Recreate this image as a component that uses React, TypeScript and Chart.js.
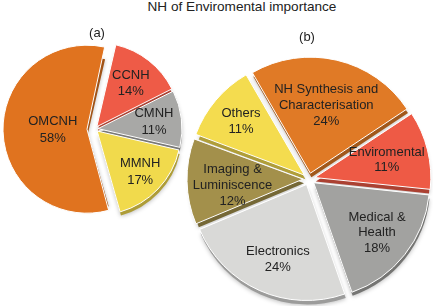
import React, { useEffect, useRef } from 'react';
import { Chart, registerables } from 'chart.js';

Chart.register(...registerables);

const TITLE = 'NH of Enviromental importance';
const PANEL_A = '(a)';
const PANEL_B = '(b)';

const labelsA = ['CCNH', 'CMNH', 'MMNH', 'OMCNH'];
const valuesA = [14, 11, 17, 58];
const colorsA = ['#EE5B47', '#A8A8A6', '#F1DA4C', '#E0731F'];
const explodeA = [3, 3, 3, 8];
const labelRadiusA = [0.66, 0.68, 0.71, 0.45];
const labelTurnA = [0, 0, 0, 0];

const labelsB = [
  'NH Synthesis and\nCharacterisation',
  'Enviromental',
  'Medical &\nHealth',
  'Electronics',
  'Imaging &\nLuminiscence',
  'Others',
];
const valuesB = [24, 11, 18, 24, 12, 11];
const colorsB = ['#E07A26', '#EE5A45', '#A2A2A0', '#D9D9D7', '#A3904B', '#F4DC4F'];
const explodeB = [6, 6, 6, 6, 6, 6];
const labelRadiusB = [0.6, 0.65, 0.7, 0.69, 0.62, 0.73];
const labelTurnB = [0, 0, 0, -3, -4, 0];

const FONT = '"Liberation Sans", Arial, Helvetica, sans-serif';

function darken(hex: string, f: number): string {
  const n = parseInt(hex.slice(1), 16);
  const r = Math.round(((n >> 16) & 255) * f);
  const g = Math.round(((n >> 8) & 255) * f);
  const b = Math.round((n & 255) * f);
  return `rgb(${r},${g},${b})`;
}

// keep the exploded slices the same radius as the others
const fixRadius = {
  id: 'fixRadius',
  afterDatasetUpdate(chart: any, args: any) {
    const meta = chart.getDatasetMeta(args.index);
    meta.data.forEach((arc: any) => {
      const off = ((arc.options && arc.options.offset) || 0) / 4;
      const circ = arc.endAngle - arc.startAngle;
      const fix = 1 - Math.sin(Math.min(Math.PI, circ));
      arc.outerRadius = arc.outerRadius - off * fix;
    });
  },
};

// darker "thickness" under each slice
const rimPlugin = {
  id: 'rim',
  beforeDatasetsDraw(chart: any, _args: any, opts: any) {
    const ctx = chart.ctx;
    const meta = chart.getDatasetMeta(0);
    ctx.save();
    meta.data.forEach((arc: any, i: number) => {
      const off = ((arc.options && arc.options.offset) || 0) / 4;
      const mid = (arc.startAngle + arc.endAngle) / 2;
      const cx = arc.x + Math.cos(mid) * off + opts.dx;
      const cy = arc.y + Math.sin(mid) * off + opts.dy;
      ctx.beginPath();
      ctx.moveTo(cx, cy);
      ctx.arc(cx, cy, arc.outerRadius, arc.startAngle, arc.endAngle);
      ctx.closePath();
      ctx.shadowColor = 'rgba(0,0,0,0.25)';
      ctx.shadowBlur = 4;
      ctx.shadowOffsetY = 1;
      ctx.fillStyle = darken(opts.colors[i], 0.72);
      ctx.fill();
    });
    ctx.restore();
  },
};

const labelPlugin = {
  id: 'sliceLabels',
  afterDatasetsDraw(chart: any, _args: any, opts: any) {
    const ctx = chart.ctx;
    const meta = chart.getDatasetMeta(0);
    const labels = chart.data.labels as string[];
    const values = chart.data.datasets[0].data as number[];
    ctx.save();
    ctx.font = `${opts.size}px ${FONT}`;
    ctx.fillStyle = '#222';
    ctx.textAlign = 'center';
    ctx.textBaseline = 'middle';
    meta.data.forEach((arc: any, i: number) => {
      const off = ((arc.options && arc.options.offset) || 0) / 4;
      const mid = (arc.startAngle + arc.endAngle) / 2;
      const ang = mid + (opts.turn[i] * Math.PI) / 180;
      const r = arc.outerRadius * opts.frac[i];
      const x = arc.x + Math.cos(mid) * off + Math.cos(ang) * r;
      const y = arc.y + Math.sin(mid) * off + Math.sin(ang) * r;
      const lines = String(labels[i]).split('\n').concat(values[i] + '%');
      const lh = opts.lineHeight;
      const y0 = y - ((lines.length - 1) * lh) / 2;
      lines.forEach((t, k) => ctx.fillText(t, x, y0 + k * lh));
    });
    ctx.restore();
  },
};

function makeConfig(
  labels: string[],
  values: number[],
  colors: string[],
  explode: number[],
  radius: number,
  rotation: number,
  frac: number[],
  turn: number[],
  lineHeight: number
): any {
  return {
    type: 'pie',
    data: {
      labels,
      datasets: [
        {
          data: values,
          backgroundColor: colors,
          borderColor: '#ffffff',
          borderWidth: 1,
          offset: explode.map((e) => e * 4),
          hoverOffset: 0,
        },
      ],
    },
    options: {
      animation: false,
      responsive: false,
      events: [],
      radius,
      rotation,
      layout: { padding: 0 },
      plugins: {
        legend: { display: false },
        tooltip: { enabled: false },
        title: { display: false },
        rim: { dx: 1, dy: 4, colors },
        sliceLabels: { size: 13, lineHeight, frac, turn },
      },
    },
    plugins: [fixRadius, rimPlugin, labelPlugin],
  };
}

function PieCanvas(props: {
  left: number;
  top: number;
  size: number;
  config: () => any;
}) {
  const ref = useRef<HTMLCanvasElement | null>(null);
  useEffect(() => {
    if (!ref.current) return;
    const chart = new Chart(ref.current, props.config());
    return () => chart.destroy();
  }, []);
  return (
    <canvas
      ref={ref}
      width={props.size}
      height={props.size}
      style={{
        position: 'absolute',
        left: props.left,
        top: props.top,
        width: props.size,
        height: props.size,
      }}
    />
  );
}

export default function App() {
  const textStyle: React.CSSProperties = {
    position: 'absolute',
    fontFamily: FONT,
    fontSize: 13,
    lineHeight: '15px',
    color: '#222',
    whiteSpace: 'nowrap',
    textAlign: 'center',
  };
  return (
    <div
      style={{
        position: 'absolute',
        left: 0,
        top: 0,
        width: 433,
        height: 306,
        overflow: 'hidden',
        background: '#ffffff',
      }}
    >
      <PieCanvas
        left={-5}
        top={29}
        size={200}
        config={() =>
          makeConfig(labelsA, valuesA, colorsA, explodeA, 84, 13, labelRadiusA, labelTurnA, 16.5)
        }
      />
      <PieCanvas
        left={179}
        top={49}
        size={260}
        config={() =>
          makeConfig(labelsB, valuesB, colorsB, explodeB, 116, -30, labelRadiusB, labelTurnB, 15.7)
        }
      />
      <div style={{ ...textStyle, left: 142, width: 200, top: -1, fontSize: 13.6 }}>{TITLE}</div>
      <div style={{ ...textStyle, left: 77, width: 40, top: 25 }}>{PANEL_A}</div>
      <div style={{ ...textStyle, left: 287, width: 40, top: 29 }}>{PANEL_B}</div>
    </div>
  );
}
